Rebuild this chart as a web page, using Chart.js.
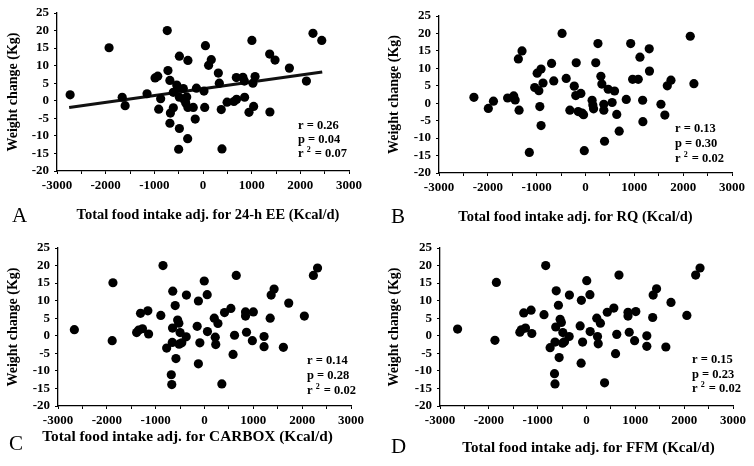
<!DOCTYPE html>
<html>
<head>
<meta charset="utf-8">
<script src="https://cdn.jsdelivr.net/npm/chart.js@4"></script>
<style>
  body { margin: 0; background: #fff; }
  .panel { position: absolute; width: 377px; height: 233px; }
</style>
</head>
<body>
<div class="panel" style="left:0;top:0"><canvas id="chartA" width="377" height="233"></canvas></div>
<div class="panel" style="left:377px;top:0"><canvas id="chartB" width="377" height="233"></canvas></div>
<div class="panel" style="left:0;top:233px"><canvas id="chartC" width="377" height="233"></canvas></div>
<div class="panel" style="left:377px;top:233px"><canvas id="chartD" width="377" height="233"></canvas></div>
<script>
// panel A: 24-h EE
let aX = [-2730, -1930, -1660, -1600, -1150, -870, -985, -930, -910, -735, -720, -680, -670, -680, -610, -610, -540, -525, -485, -485, -485, -500, -405, -390, -355, -335, -310, -310, -315, -200, -160, -135, 20, 35, 50, 115, 170, 315, 335, 375, 390, 495, 635, 690, 685, 820, 850, 855, 945, 1005, 1025, 1040, 1070, 1370, 1375, 1480, 1775, 2125, 2260, 2440];
let aY = [1.7, 15.1, 1.0, -1.4, 2.0, 0.6, 6.5, 7.0, -2.4, 20.0, 8.6, 5.8, -3.5, -6.4, 2.4, -2.0, 4.5, 3.6, 1.0, 12.7, -7.9, -13.8, 3.5, 0.4, -0.6, 1.1, 11.5, -1.9, -10.8, -1.9, -5.2, 3.6, 2.75, -1.9, 15.7, 10.1, 11.7, 7.9, 5.0, -2.5, -13.7, -0.4, -0.2, 0.4, 6.6, 6.7, 5.6, 1.0, -3.3, 17.2, 5.0, -1.6, 6.9, 13.3, -3.2, 11.6, 9.3, 5.6, 19.2, 17.2];
let trendAX = [-2750, 2450];
let trendAY = [-1.9, 8.2];

// panel B: RQ
let bX = [-2285, -1990, -1885, -1595, -1470, -1440, -1375, -1300, -1360, -1150, -1040, -990, -955, -910, -935, -910, -870, -695, -650, -480, -395, -320, -230, -200, -190, -150, -95, -70, -40, -25, 255, 135, 150, 165, 210, 315, 335, 375, 375, 390, 465, 545, 595, 640, 690, 835, 925, 965, 1080, 1115, 1175, 1170, 1310, 1305, 1545, 1625, 1675, 1750, 2145, 2220];
let bY = [1.7, -1.5, 0.6, 1.5, 2.1, 0.95, 12.7, 15.0, -2.0, -14.1, 4.5, 8.6, 3.6, 9.8, -0.95, -6.4, 5.8, 11.4, 6.4, 20.0, 7.1, -2.0, 4.9, 2.2, 11.6, -2.4, 2.8, -2.8, -3.3, -13.6, 17.1, 0.85, -0.5, -1.6, 11.6, 7.7, 5.5, -0.3, -2.0, -10.9, 4.0, 0.2, 3.5, -3.2, -8.0, 1.1, 17.1, 6.85, 6.85, 13.2, -5.3, 0.85, 9.2, 15.6, -0.3, -3.4, 5.0, 6.6, 19.2, 5.6];

// panel C: CARBOX
let cX = [-2665, -1890, -1875, -1390, -1350, -1270, -1310, -1160, -1145, -895, -850, -775, -680, -670, -660, -655, -650, -600, -585, -550, -525, -520, -500, -465, -370, -375, -150, -125, -125, -95, -5, 55, 60, 200, 220, 230, 275, 355, 410, 540, 585, 615, 650, 840, 840, 860, 980, 1000, 1220, 1220, 1345, 1365, 1425, 1615, 1725, 2045, 2230, 2315];
let cY = [1.75, -1.4, 15.1, 0.9, 1.6, 2.0, 6.4, 7.1, 0.5, 5.8, 20.0, -3.5, -11.1, -13.9, -1.9, 2.2, 12.7, 8.6, -6.5, 4.5, 3.6, -2.4, 0.9, -2.0, 11.6, -0.3, 2.7, 9.9, -8.0, -2.0, 15.6, 11.7, 1.2, 5.0, -0.4, -2.5, 3.5, -13.7, 6.6, 7.8, -5.3, 0.15, 17.2, 6.8, 5.6, 1.0, -1.4, 6.8, -0.2, -3.1, 5.0, 11.6, 13.3, -3.3, 9.3, 5.6, 17.2, 19.3];

// panel D: FFM
let dX = [-2640, -1875, -1845, -1365, -1335, -1250, -1285, -1135, -1120, -870, -835, -745, -655, -645, -645, -630, -620, -575, -560, -540, -515, -485, -490, -450, -350, -355, -130, -105, -110, -80, 5, 70, 75, 210, 225, 240, 285, 370, 425, 560, 595, 620, 665, 850, 850, 875, 985, 1010, 1235, 1235, 1355, 1365, 1435, 1625, 1730, 2055, 2235, 2325];
let dY = [1.9, -1.3, 15.2, 1.0, 1.7, 2.2, 6.5, 7.3, 0.65, 6.0, 20.0, -3.4, -10.8, -13.7, -1.8, 2.5, 12.8, 8.7, -6.2, 4.7, 3.8, 0.9, -2.1, -1.7, 11.6, -0.2, 2.8, 10.1, -7.8, -1.8, 15.7, 11.7, 1.2, 5.0, -0.2, -2.3, 3.6, -13.4, 6.7, 7.9, -5.1, 0.4, 17.3, 6.7, 5.6, 1.0, -1.4, 6.9, 0.0, -3.0, 5.2, 11.6, 13.4, -3.2, 9.5, 5.8, 17.3, 19.3];

// r, p, r squared per panel
let statsA = ['0.26', '0.04', '0.07'];
let statsB = ['0.13', '0.30', '0.02'];
let statsC = ['0.14', '0.28', '0.02'];
let statsD = ['0.15', '0.23', '0.02'];

let xMin = -3000, xMax = 3000, xStep = 500;
let yMin = -20, yMax = 25, yStep = 5;
let yTitle = 'Weight change (Kg)';

const SERIF = "'Liberation Serif', 'Times New Roman', serif";

function pts(xs, ys) {
    return xs.map((x, i) => ({ x: x, y: ys[i] }));
}

// box = chart area inside the 377x233 canvas
function makePanel(id, letter, xs, ys, title, stats, box, lay, trend) {
    let datasets = [{
        data: pts(xs, ys),
        backgroundColor: '#000',
        borderWidth: 0,
        pointRadius: 4.6,
        pointHoverRadius: 4.6,
    }];
    if (trend) {
        datasets.push({
            type: 'line',
            data: pts(trend[0], trend[1]),
            borderColor: '#111',
            borderWidth: 3,
            pointRadius: 0,
            fill: false,
        });
    }

    let textPlugin = {
        id: 'panelText' + letter,
        afterDraw(chart) {
            let ctx = chart.ctx;
            let ca = chart.chartArea;
            ctx.save();
            ctx.fillStyle = '#000';
            // panel letter
            ctx.font = '21px ' + SERIF;
            ctx.textAlign = 'left';
            ctx.textBaseline = 'alphabetic';
            ctx.fillText(letter, lay.letter[0], lay.letter[1]);
            // x axis title
            ctx.font = 'bold ' + lay.titleSize + 'px ' + SERIF;
            ctx.textAlign = 'center';
            ctx.textBaseline = 'middle';
            ctx.fillText(title, (ca.left + ca.right) / 2 + lay.titleDx, lay.titleY);
            // stats
            ctx.font = 'bold 12.5px ' + SERIF;
            ctx.textAlign = 'left';
            let sx = lay.stats[0], sy = lay.stats[1], gap = lay.gap;
            ctx.fillText('r = ' + stats[0], sx, sy);
            ctx.fillText('p = ' + stats[1], sx, sy + gap);
            ctx.fillText('r', sx, sy + gap * 2);
            let rw = ctx.measureText('r ').width;
            ctx.font = 'bold 8px ' + SERIF;
            ctx.fillText('2', sx + rw, sy + gap * 2 - 4);
            ctx.font = 'bold 12.5px ' + SERIF;
            ctx.fillText(' = ' + stats[2], sx + rw + 5, sy + gap * 2);
            ctx.restore();
        }
    };

    return new Chart(document.getElementById(id), {
        type: 'scatter',
        data: { datasets: datasets },
        options: {
            responsive: false,
            animation: false,
            devicePixelRatio: 1,
            layout: { padding: { left: 0, top: box.top, right: 377 - box.right, bottom: 0 } },
            plugins: { legend: { display: false }, tooltip: { enabled: false } },
            scales: {
                x: {
                    type: 'linear',
                    min: xMin, max: xMax,
                    afterFit(scale) { scale.height = 233 - box.bottom; },
                    border: { color: '#000', width: 1.3 },
                    grid: { drawOnChartArea: false, color: '#000', tickLength: 3, lineWidth: 1 },
                    ticks: {
                        stepSize: xStep,
                        autoSkip: false,
                        maxRotation: 0, minRotation: 0,
                        padding: 4,
                        color: '#000',
                        font: { family: SERIF, size: 13, weight: 'bold' },
                        callback: (v) => (v % 1000 === 0 ? String(v) : ''),
                    },
                },
                y: {
                    min: yMin, max: yMax,
                    afterFit(scale) { scale.width = box.left; },
                    border: { color: '#000', width: 1.3 },
                    grid: { drawOnChartArea: false, color: '#000', tickLength: 3, lineWidth: 1 },
                    ticks: {
                        stepSize: yStep,
                        autoSkip: false,
                        padding: 5,
                        color: '#000',
                        font: { family: SERIF, size: 13, weight: 'bold' },
                    },
                    title: {
                        display: true,
                        text: yTitle,
                        color: '#000',
                        font: { family: SERIF, size: 14, weight: 'bold' },
                        padding: { top: lay.yTitlePad, bottom: 0 },
                    },
                },
            },
        },
        plugins: [textPlugin],
    });
}

makePanel('chartA', 'A', aX, aY, 'Total food intake adj. for 24-h EE (Kcal/d)', statsA,
    { left: 57, top: 13, right: 349, bottom: 171 },
    { letter: [12, 222], titleDx: 5, titleY: 215, titleSize: 14.5, stats: [298, 126], gap: 14, yTitlePad: 5 },
    [trendAX, trendAY]);
makePanel('chartB', 'B', bX, bY, 'Total food intake adj. for RQ (Kcal/d)', statsB,
    { left: 62, top: 16, right: 355, bottom: 173 },
    { letter: [14, 223], titleDx: -10, titleY: 217, titleSize: 14.5, stats: [298, 129], gap: 15, yTitlePad: 9 },
    null);
makePanel('chartC', 'C', cX, cY, 'Total food intake adj. for CARBOX (Kcal/d)', statsC,
    { left: 58, top: 15, right: 351, bottom: 173 },
    { letter: [9, 217], titleDx: -17, titleY: 204, titleSize: 15.3, stats: [307, 128], gap: 15, yTitlePad: 5 },
    null);
makePanel('chartD', 'D', dX, dY, 'Total food intake adj. for FFM (Kcal/d)', statsD,
    { left: 63, top: 15, right: 356, bottom: 173 },
    { letter: [14, 220], titleDx: 2, titleY: 215, titleSize: 15, stats: [315, 127], gap: 14.5, yTitlePad: 9 },
    null);
</script>
</body>
</html>
